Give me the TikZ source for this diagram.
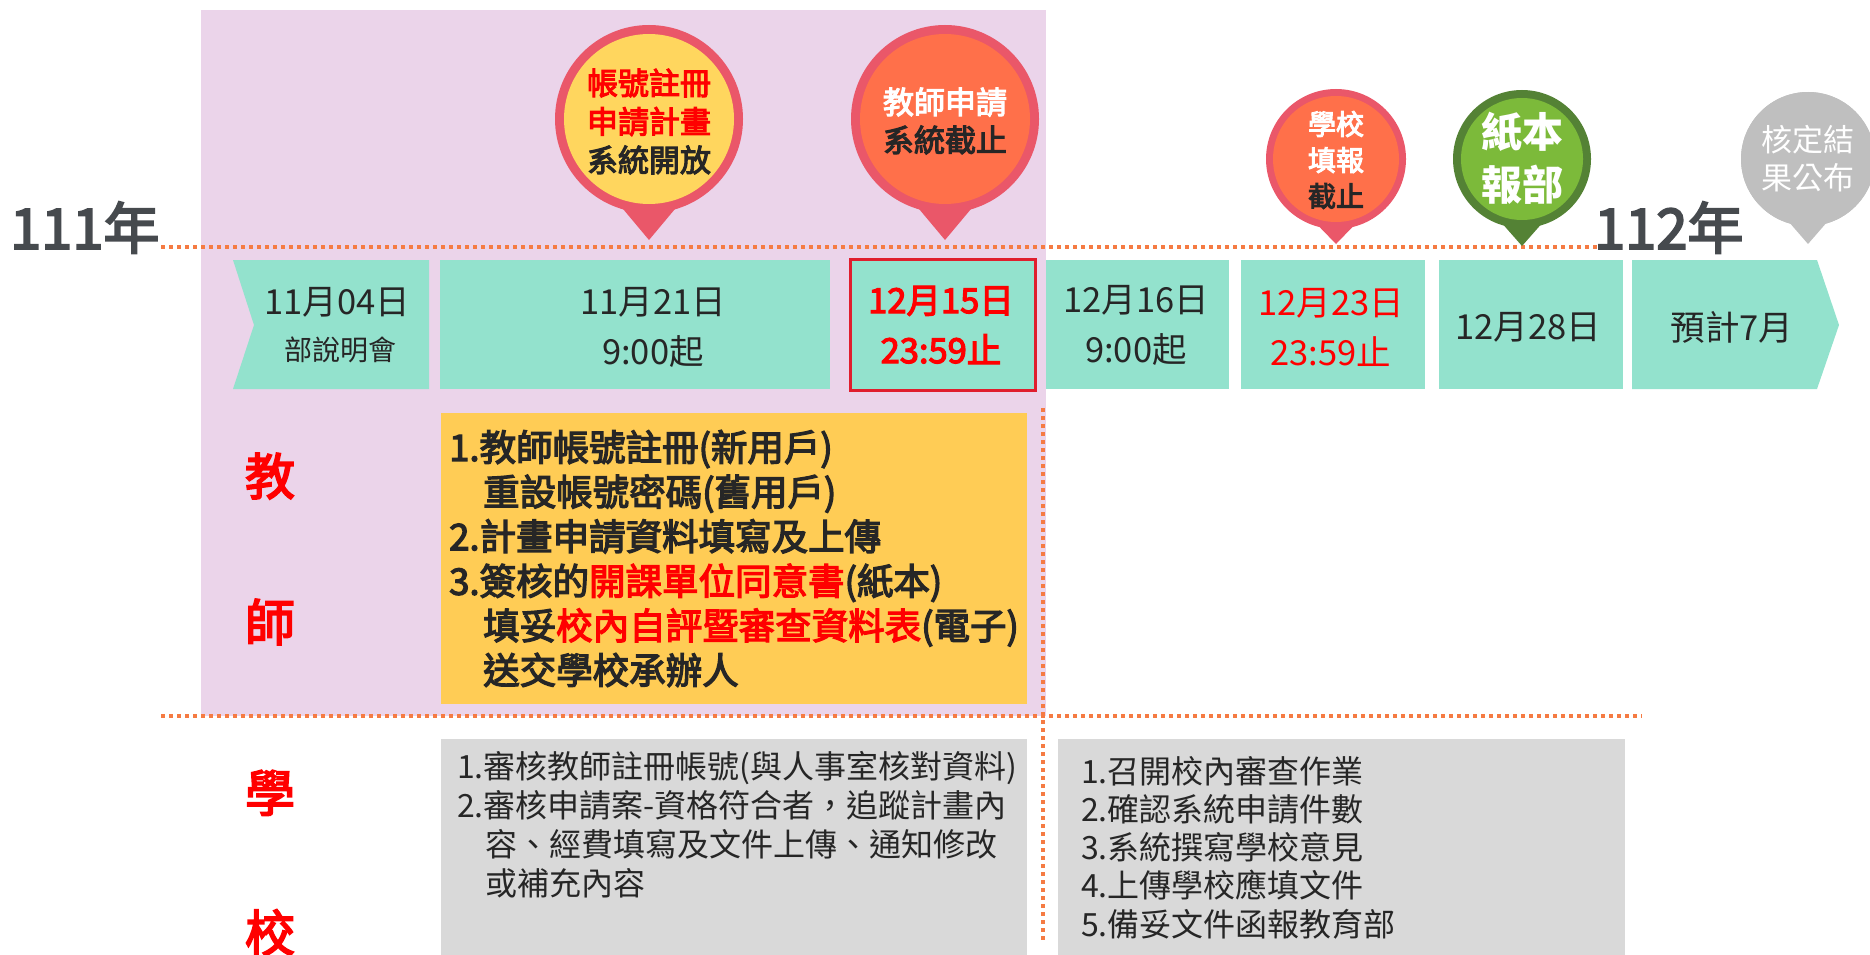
\documentclass[tikz,border=0pt]{standalone}
\usepackage{fontspec}
\setmainfont{Noto Sans CJK TC}
\newfontfamily\semib{Noto Sans CJK TC}[FakeBold=3.5]
\definecolor{purplebg}{HTML}{EBD4EA}
\definecolor{tealbox}{HTML}{93E2CD}
\definecolor{redframe}{HTML}{E01E2D}
\definecolor{pinring}{HTML}{EA5769}
\definecolor{pinyellow}{HTML}{FFD65E}
\definecolor{pinorange}{HTML}{FF704A}
\definecolor{greenring}{HTML}{548235}
\definecolor{greenfill}{HTML}{7CBA3A}
\definecolor{pingray}{HTML}{BFBFBF}
\definecolor{yellowbox}{HTML}{FFCC55}
\definecolor{graybox}{HTML}{D9D9D9}
\definecolor{dotorange}{HTML}{F57B43}
\definecolor{darktext}{HTML}{262626}
\definecolor{yeartext}{HTML}{464A4E}
\definecolor{brightred}{HTML}{FF0000}
\newcommand{\fs}[2]{\fontsize{#1}{#2}\selectfont}
% cx cy R r tipy ring fill
\newcommand{\pinshape}[7]{%
  \fill[#6] (#1,#2) circle[radius=#3pt];
  \fill[#6] ({#1-0.45*#3},{#2+0.75*#3}) -- (#1,#5) -- ({#1+0.45*#3},{#2+0.75*#3}) -- cycle;
  \fill[#7] (#1,#2) circle[radius=#4pt];
}
\begin{document}
\begin{tikzpicture}[x=1pt,y=-1pt,
  dotline/.style={draw=dotorange, line width=3.5pt, dash pattern=on 4pt off 4pt},
  datebox/.style={fill=tealbox},
  datetxt/.style={inner sep=0pt, align=center, text=darktext, font=\fs{34.5}{50}},
  pintxt/.style={inner sep=0pt, align=center, text=darktext},
  rolelbl/.style={inner sep=0pt, align=center, text=brightred},
  panel/.style={inner sep=0pt, anchor=north west},
  paneltxt/.style={inner sep=0pt, anchor=west, align=left, text=darktext},
  yeartxt/.style={inner sep=0pt, anchor=base west, text=yeartext, font=\semib\fs{56}{56}},
]
\useasboundingbox (0,0) rectangle (1870,955);
\fill[purplebg] (201,10) rectangle (1046,716);

% timeline dotted lines
\coordinate (l1a) at (161,247); \coordinate (l1b) at (1611,247);
\coordinate (l2a) at (161,716); \coordinate (l2b) at (1642,716);
\coordinate (v1a) at (1043,408); \coordinate (v1b) at (1043,942);
\draw[dotline] (l1a) -- (l1b);
\draw[dotline] (l2a) -- (l2b);
\draw[dotline] (v1a) -- (v1b);

% date boxes
\fill[datebox] (233,260) -- (429,260) -- (429,389) -- (233,389) -- (254,325) -- cycle;
\fill[datebox] (440,260) rectangle (830,389);
\fill[datebox] (849,258) rectangle (1037,392);
\draw[redframe, line width=3.5pt] (850.5,259.5) rectangle (1035.5,390.5);
\fill[datebox] (1046,260) rectangle (1229,389);
\fill[datebox] (1241,260) rectangle (1425,389);
\fill[datebox] (1439,260) rectangle (1623,389);
\fill[datebox] (1632,260) -- (1817,260) -- (1839,325) -- (1817,389) -- (1632,389) -- cycle;

\node[datetxt] (d1a) at (337,302) {11月04日};
\node[datetxt, font=\fs{28}{28}] (d1b) at (340,350) {部說明會};
\node[datetxt] (d2) at (653,327) {11月21日\\9:00起};
\node[datetxt, text=brightred, font=\semib\fs{34.5}{50}] (d3) at (941,325) {12月15日\\23:59止};
\node[datetxt] (d4) at (1136,325) {12月16日\\9:00起};
\node[datetxt, text=brightred] (d5) at (1331,327) {12月23日\\23:59止};
\node[datetxt] (d6) at (1528,327) {12月28日};
\node[datetxt] (d7) at (1732,327) {預計7月};

% pins
\pinshape{649}{119}{94}{85}{240}{pinring}{pinyellow}
\pinshape{945}{119}{94}{85}{240}{pinring}{pinorange}
\pinshape{1336}{159}{70}{63}{244}{pinring}{pinorange}
\pinshape{1522}{159}{69}{61}{246}{greenring}{greenfill}
\pinshape{1808}{159}{67}{67}{244}{pingray}{pingray}

\node[pintxt, font=\semib\fs{31}{38.5}] (p1) at (649,121.5)
  {\textcolor{brightred}{帳號註冊}\\\textcolor{brightred}{申請計畫}\\系統開放};
\node[pintxt, font=\semib\fs{31}{38}] (p2) at (945,121)
  {\textcolor{white}{教師申請}\\系統截止};
\node[pintxt, font=\semib\fs{28}{36}] (p3) at (1336,160)
  {\textcolor{white}{學校}\\\textcolor{white}{填報}\\截止};
\node[pintxt, text=white, font=\bfseries\fs{41}{53}] (p4) at (1522,158) {紙本\\報部};
\node[pintxt, text=white, font=\fs{31}{38}] (p5) at (1808,159) {核定結\\果公布};

% years
\node[yeartxt] (y111) at (10,249) {111年};
\node[yeartxt] (y112) at (1594,249) {112年};

% role labels
\node[rolelbl, font=\semib\fs{50}{146}] (teach) at (270,549) {教\\師};
\node[rolelbl, font=\semib\fs{50}{140}] (school) at (270,863) {學\\校};

% teacher panel
\node[panel, fill=yellowbox, minimum width=586pt, minimum height=291pt] (tbox) at (441,413) {};
\node[paneltxt, font=\semib\fs{36.5}{44.6}] (ttxt) at (449,558.5)
  {1.教師帳號註冊(新用戶)\\
   \hspace*{34pt}重設帳號密碼(舊用戶)\\
   2.計畫申請資料填寫及上傳\\
   3.簽核的\textcolor{brightred}{開課單位同意書}(紙本)\\
   \hspace*{34pt}填妥\textcolor{brightred}{校內自評暨審查資料表}(電子)\\
   \hspace*{34pt}送交學校承辦人};

% school panels
\node[panel, fill=graybox, minimum width=586pt, minimum height=216pt] (sbox1) at (441,739) {};
\node[paneltxt, font=\fs{32}{39}] (stxt1) at (457,825)
  {1.審核教師註冊帳號(與人事室核對資料)\\
   2.審核申請案-資格符合者，追蹤計畫內\\
   \hspace*{28pt}容、經費填寫及文件上傳、通知修改\\
   \hspace*{28pt}或補充內容};
\node[panel, fill=graybox, minimum width=567pt, minimum height=216pt] (sbox2) at (1058,739) {};
\node[paneltxt, font=\fs{32}{38.2}] (stxt2) at (1081,847.5)
  {1.召開校內審查作業\\
   2.確認系統申請件數\\
   3.系統撰寫學校意見\\
   4.上傳學校應填文件\\
   5.備妥文件函報教育部};
\end{tikzpicture}
\end{document}
